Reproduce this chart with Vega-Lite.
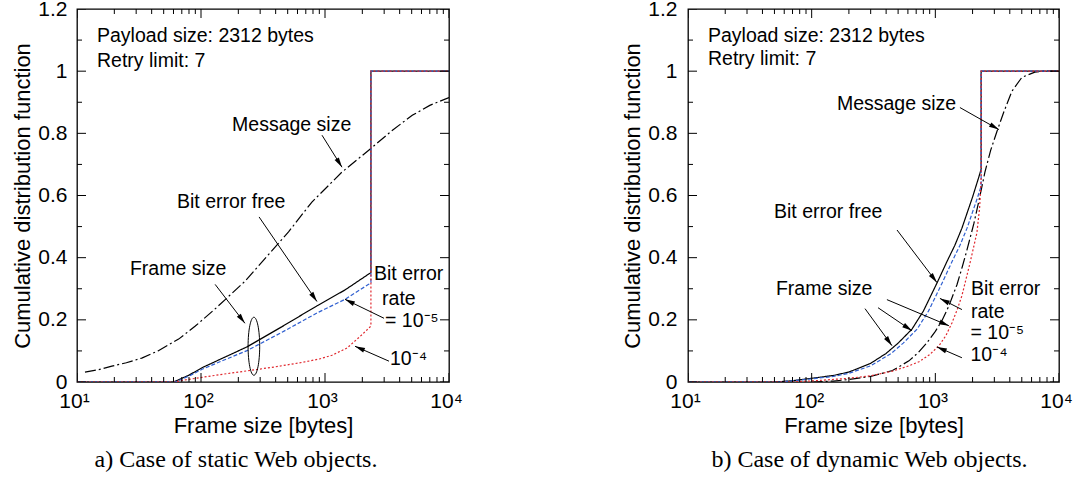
{
  "$schema": "https://vega.github.io/schema/vega-lite/v6.json",
  "background": "white",
  "padding": {"left": 11, "top": -3, "right": 5, "bottom": 5},
  "bounds": "flush",
  "spacing": 239,
  "datasets": {
    "xMajor": [{"v":10},{"v":100},{"v":1000},{"v":10000}],
    "xMinor": [{"v":20},{"v":30},{"v":40},{"v":50},{"v":60},{"v":70},{"v":80},{"v":90},{"v":200},{"v":300},{"v":400},{"v":500},{"v":600},{"v":700},{"v":800},{"v":900},{"v":2000},{"v":3000},{"v":4000},{"v":5000},{"v":6000},{"v":7000},{"v":8000},{"v":9000}],
    "yMajor": [{"v":0},{"v":0.2},{"v":0.4},{"v":0.6},{"v":0.8},{"v":1},{"v":1.2}],
    "yMinor": [{"v":0.1},{"v":0.3},{"v":0.5},{"v":0.7},{"v":0.9},{"v":1.1}],
    "curvesA": [
      {"s":"msg","x":11.6,"y":0.032},{"s":"msg","x":15,"y":0.04},{"s":"msg","x":19.1,"y":0.051},{"s":"msg","x":25,"y":0.062},{"s":"msg","x":33.3,"y":0.077},{"s":"msg","x":45,"y":0.1},{"s":"msg","x":66,"y":0.138},{"s":"msg","x":90,"y":0.18},{"s":"msg","x":129,"y":0.234},{"s":"msg","x":225,"y":0.323},{"s":"msg","x":350,"y":0.41},{"s":"msg","x":508,"y":0.483},{"s":"msg","x":784,"y":0.579},{"s":"msg","x":1368,"y":0.675},{"s":"msg","x":2304,"y":0.749},{"s":"msg","x":3500,"y":0.81},{"s":"msg","x":5054,"y":0.858},{"s":"msg","x":7000,"y":0.89},{"s":"msg","x":10000,"y":0.915},
      {"s":"free","x":10,"y":0},{"s":"free","x":60,"y":0},{"s":"free","x":80,"y":0.022},{"s":"free","x":102,"y":0.046},{"s":"free","x":150,"y":0.077},{"s":"free","x":235,"y":0.113},{"s":"free","x":450,"y":0.178},{"s":"free","x":861,"y":0.245},{"s":"free","x":1449,"y":0.296},{"s":"free","x":2264,"y":0.348},{"s":"free","x":2346,"y":0.352},{"s":"free","x":2346,"y":1},{"s":"free","x":10000,"y":1},
      {"s":"b5","x":10,"y":0},{"s":"b5","x":62,"y":0},{"s":"b5","x":80,"y":0.019},{"s":"b5","x":102,"y":0.041},{"s":"b5","x":150,"y":0.069},{"s":"b5","x":235,"y":0.101},{"s":"b5","x":450,"y":0.16},{"s":"b5","x":861,"y":0.222},{"s":"b5","x":1449,"y":0.266},{"s":"b5","x":2264,"y":0.315},{"s":"b5","x":2346,"y":0.32},{"s":"b5","x":2346,"y":1},{"s":"b5","x":10000,"y":1},
      {"s":"b4","x":10,"y":0},{"s":"b4","x":62,"y":0},{"s":"b4","x":70,"y":0.005},{"s":"b4","x":102,"y":0.015},{"s":"b4","x":150,"y":0.025},{"s":"b4","x":258,"y":0.038},{"s":"b4","x":400,"y":0.049},{"s":"b4","x":653,"y":0.063},{"s":"b4","x":900,"y":0.074},{"s":"b4","x":1138,"y":0.086},{"s":"b4","x":1503,"y":0.109},{"s":"b4","x":1986,"y":0.152},{"s":"b4","x":2306,"y":0.177},{"s":"b4","x":2346,"y":0.18},{"s":"b4","x":2346,"y":1},{"s":"b4","x":10000,"y":1}
    ],
    "curvesB": [
      {"s":"msg","x":100,"y":0},{"s":"msg","x":150,"y":0.003},{"s":"msg","x":200,"y":0.008},{"s":"msg","x":300,"y":0.018},{"s":"msg","x":450,"y":0.037},{"s":"msg","x":612,"y":0.068},{"s":"msg","x":730,"y":0.095},{"s":"msg","x":855,"y":0.126},{"s":"msg","x":1000,"y":0.163},{"s":"msg","x":1130,"y":0.197},{"s":"msg","x":1288,"y":0.245},{"s":"msg","x":1496,"y":0.313},{"s":"msg","x":1650,"y":0.37},{"s":"msg","x":1800,"y":0.424},{"s":"msg","x":2050,"y":0.51},{"s":"msg","x":2300,"y":0.6},{"s":"msg","x":2518,"y":0.675},{"s":"msg","x":2800,"y":0.745},{"s":"msg","x":3148,"y":0.806},{"s":"msg","x":3590,"y":0.87},{"s":"msg","x":4157,"y":0.935},{"s":"msg","x":5010,"y":0.98},{"s":"msg","x":6380,"y":0.997},{"s":"msg","x":7500,"y":1},{"s":"msg","x":10000,"y":1},
      {"s":"free","x":10,"y":0},{"s":"free","x":50,"y":0},{"s":"free","x":70,"y":0.004},{"s":"free","x":100,"y":0.012},{"s":"free","x":150,"y":0.021},{"s":"free","x":200,"y":0.032},{"s":"free","x":300,"y":0.06},{"s":"free","x":400,"y":0.092},{"s":"free","x":500,"y":0.125},{"s":"free","x":647,"y":0.17},{"s":"free","x":800,"y":0.228},{"s":"free","x":1030,"y":0.318},{"s":"free","x":1250,"y":0.39},{"s":"free","x":1439,"y":0.44},{"s":"free","x":1641,"y":0.495},{"s":"free","x":2000,"y":0.595},{"s":"free","x":2250,"y":0.66},{"s":"free","x":2346,"y":0.685},{"s":"free","x":2346,"y":1},{"s":"free","x":10000,"y":1},
      {"s":"b5","x":10,"y":0},{"s":"b5","x":55,"y":0},{"s":"b5","x":100,"y":0.01},{"s":"b5","x":150,"y":0.018},{"s":"b5","x":200,"y":0.028},{"s":"b5","x":300,"y":0.052},{"s":"b5","x":440,"y":0.092},{"s":"b5","x":550,"y":0.125},{"s":"b5","x":712,"y":0.17},{"s":"b5","x":880,"y":0.228},{"s":"b5","x":1133,"y":0.318},{"s":"b5","x":1375,"y":0.39},{"s":"b5","x":1583,"y":0.44},{"s":"b5","x":1805,"y":0.495},{"s":"b5","x":2200,"y":0.595},{"s":"b5","x":2346,"y":0.63},{"s":"b5","x":2346,"y":1},{"s":"b5","x":10000,"y":1},
      {"s":"b4","x":10,"y":0},{"s":"b4","x":70,"y":0},{"s":"b4","x":115,"y":0.005},{"s":"b4","x":200,"y":0.012},{"s":"b4","x":300,"y":0.02},{"s":"b4","x":450,"y":0.035},{"s":"b4","x":612,"y":0.052},{"s":"b4","x":737,"y":0.065},{"s":"b4","x":900,"y":0.088},{"s":"b4","x":1072,"y":0.117},{"s":"b4","x":1220,"y":0.15},{"s":"b4","x":1362,"y":0.19},{"s":"b4","x":1500,"y":0.232},{"s":"b4","x":1641,"y":0.278},{"s":"b4","x":1900,"y":0.38},{"s":"b4","x":2168,"y":0.48},{"s":"b4","x":2280,"y":0.56},{"s":"b4","x":2346,"y":0.655},{"s":"b4","x":2346,"y":1},{"s":"b4","x":10000,"y":1}
    ],
    "textA": [
      {"x":14.5,"y":1.114,"t":"Payload size: 2312 bytes"},
      {"x":14.5,"y":1.034,"t":"Retry limit: 7"},
      {"x":178,"y":0.826,"t":"Message size"},
      {"x":64,"y":0.579,"t":"Bit error free"},
      {"x":26.7,"y":0.362,"t":"Frame size"},
      {"x":2483,"y":0.346,"t":"Bit error"},
      {"x":2884,"y":0.266,"t":"rate"},
      {"x":3050,"y":0.195,"t":"= 10⁻⁵"},
      {"x":3340,"y":0.074,"t":"10⁻⁴"}
    ],
    "textB": [
      {"x":14.5,"y":1.113,"t":"Payload size: 2312 bytes"},
      {"x":14.5,"y":1.039,"t":"Retry limit: 7"},
      {"x":160,"y":0.893,"t":"Message size"},
      {"x":49.6,"y":0.547,"t":"Bit error free"},
      {"x":51.4,"y":0.298,"t":"Frame size"},
      {"x":1941,"y":0.298,"t":"Bit error"},
      {"x":1941,"y":0.226,"t":"rate"},
      {"x":1925,"y":0.158,"t":"= 10⁻⁵"},
      {"x":1925,"y":0.088,"t":"10⁻⁴"}
    ],
    "arrowsA": [
      {"x":946,"y":0.794,"x2":1371,"y2":0.691},
      {"x":294,"y":0.531,"x2":861,"y2":0.259},
      {"x":130,"y":0.314,"x2":226,"y2":0.189},
      {"x":2992,"y":0.205,"x2":1449,"y2":0.266},
      {"x":3281,"y":0.067,"x2":1746,"y2":0.115}
    ],
    "arrowsB": [
      {"x":1581,"y":0.883,"x2":3266,"y2":0.812},
      {"x":490,"y":0.489,"x2":1030,"y2":0.32},
      {"x":270,"y":0.236,"x2":446,"y2":0.117},
      {"x":344,"y":0.239,"x2":647,"y2":0.165},
      {"x":406,"y":0.265,"x2":1288,"y2":0.181},
      {"x":1641,"y":0.233,"x2":1089,"y2":0.269},
      {"x":1641,"y":0.078,"x2":1030,"y2":0.113}
    ],
    "ellipseA": [{"x":267,"y":0.115}]
  },
  "hconcat": [
    {
      "width": 372,
      "height": 373,
      "title": {"text": "a) Case of static Web objects.", "orient": "bottom", "font": "Liberation Serif", "fontSize": 24, "fontWeight": "normal", "color": "black", "offset": 12, "dx": -27},
      "layer": [
        {
          "data": {"name": "curvesA"},
          "mark": {"type": "line", "strokeWidth": 1.2, "clip": true},
          "encoding": {
            "x": {"field": "x", "type": "quantitative", "scale": {"type": "log", "domain": [10, 10000], "nice": false},
              "axis": {"orient": "bottom", "values": [10,100,1000,10000],
                "labelExpr": "datum.value==10?'10¹':datum.value==100?'10²':datum.value==1000?'10³':'10⁴'",
                "ticks": false, "labelPadding": 8, "labelOffset": -3, "title": "Frame size [bytes]", "titlePadding": 4}},
            "y": {"field": "y", "type": "quantitative", "scale": {"domain": [0, 1.2], "nice": false, "zero": false},
              "axis": {"orient": "left", "values": [0,0.2,0.4,0.6,0.8,1,1.2],
                "labelExpr": "format(datum.value, '.1~f')",
                "ticks": false, "labelPadding": 10, "title": "Cumulative distribution function", "titlePadding": 3}},
            "color": {"field": "s", "type": "nominal", "scale": {"domain": ["msg","free","b5","b4"], "range": ["black","black","#2f5fd0","#e0282e"]}, "legend": null},
            "strokeDash": {"field": "s", "type": "nominal", "scale": {"domain": ["msg","free","b5","b4"], "range": [[11,3,2,3],[1,0],[4,2],[2,2]]}, "legend": null}
          }
        },
        {"data": {"name": "xMajor"}, "mark": {"type": "tick", "orient": "vertical", "size": 18, "thickness": 1, "color": "black", "opacity": 1, "clip": true},
          "encoding": {"x": {"field": "v", "type": "quantitative"}, "y": {"datum": 0, "type": "quantitative"}}},
        {"data": {"name": "xMajor"}, "mark": {"type": "tick", "orient": "vertical", "size": 18, "thickness": 1, "color": "black", "opacity": 1, "clip": true},
          "encoding": {"x": {"field": "v", "type": "quantitative"}, "y": {"datum": 1.2, "type": "quantitative"}}},
        {"data": {"name": "xMinor"}, "mark": {"type": "tick", "orient": "vertical", "size": 10, "thickness": 1, "color": "black", "opacity": 1, "clip": true},
          "encoding": {"x": {"field": "v", "type": "quantitative"}, "y": {"datum": 0, "type": "quantitative"}}},
        {"data": {"name": "xMinor"}, "mark": {"type": "tick", "orient": "vertical", "size": 10, "thickness": 1, "color": "black", "opacity": 1, "clip": true},
          "encoding": {"x": {"field": "v", "type": "quantitative"}, "y": {"datum": 1.2, "type": "quantitative"}}},
        {"data": {"name": "yMajor"}, "mark": {"type": "tick", "orient": "horizontal", "size": 18, "thickness": 1, "color": "black", "opacity": 1, "clip": true},
          "encoding": {"y": {"field": "v", "type": "quantitative"}, "x": {"datum": 10, "type": "quantitative"}}},
        {"data": {"name": "yMajor"}, "mark": {"type": "tick", "orient": "horizontal", "size": 18, "thickness": 1, "color": "black", "opacity": 1, "clip": true},
          "encoding": {"y": {"field": "v", "type": "quantitative"}, "x": {"datum": 10000, "type": "quantitative"}}},
        {"data": {"name": "yMinor"}, "mark": {"type": "tick", "orient": "horizontal", "size": 10, "thickness": 1, "color": "black", "opacity": 1, "clip": true},
          "encoding": {"y": {"field": "v", "type": "quantitative"}, "x": {"datum": 10, "type": "quantitative"}}},
        {"data": {"name": "yMinor"}, "mark": {"type": "tick", "orient": "horizontal", "size": 10, "thickness": 1, "color": "black", "opacity": 1, "clip": true},
          "encoding": {"y": {"field": "v", "type": "quantitative"}, "x": {"datum": 10000, "type": "quantitative"}}},
        {
          "data": {"name": "textA"},
          "mark": {"type": "text", "align": "left", "baseline": "middle", "font": "Liberation Sans", "fontSize": 19.5, "color": "black"},
          "encoding": {
            "x": {"field": "x", "type": "quantitative"},
            "y": {"field": "y", "type": "quantitative"},
            "text": {"field": "t"}
          }
        },
        {
          "data": {"name": "arrowsA"},
          "mark": {"type": "rule", "strokeWidth": 1, "color": "black"},
          "encoding": {
            "x": {"field": "x", "type": "quantitative"},
            "y": {"field": "y", "type": "quantitative"},
            "x2": {"field": "x2"},
            "y2": {"field": "y2"}
          }
        },
        {
          "data": {"name": "arrowsA"},
          "transform": [{"calculate": "atan2(124*(log(datum.x2)-log(datum.x))/LN10, 311*(datum.y2-datum.y))*180/PI", "as": "ang"}],
          "mark": {"type": "point", "shape": "M0,0L1,4L-1,4Z", "filled": true, "size": 25, "color": "black", "opacity": 1},
          "encoding": {
            "x": {"field": "x2", "type": "quantitative"},
            "y": {"field": "y2", "type": "quantitative"},
            "angle": {"field": "ang", "type": "quantitative", "scale": null}
          }
        },
        {
          "data": {"name": "ellipseA"},
          "mark": {"type": "point", "shape": "M0,-1A0.2,1,0,1,1,0,1A0.2,1,0,1,1,0,-1Z", "filled": false, "size": 3364, "color": "black", "strokeWidth": 1, "opacity": 1},
          "encoding": {
            "x": {"field": "x", "type": "quantitative"},
            "y": {"field": "y", "type": "quantitative"}
          }
        }
      ]
    },
    {
      "width": 371,
      "height": 373,
      "title": {"text": "b) Case of dynamic Web objects.", "orient": "bottom", "font": "Liberation Serif", "fontSize": 24, "fontWeight": "normal", "color": "black", "offset": 12, "dx": -4},
      "layer": [
        {
          "data": {"name": "curvesB"},
          "mark": {"type": "line", "strokeWidth": 1.2, "clip": true},
          "encoding": {
            "x": {"field": "x", "type": "quantitative", "scale": {"type": "log", "domain": [10, 10000], "nice": false},
              "axis": {"orient": "bottom", "values": [10,100,1000,10000],
                "labelExpr": "datum.value==10?'10¹':datum.value==100?'10²':datum.value==1000?'10³':'10⁴'",
                "ticks": false, "labelPadding": 8, "labelOffset": -3, "title": "Frame size [bytes]", "titlePadding": 4}},
            "y": {"field": "y", "type": "quantitative", "scale": {"domain": [0, 1.2], "nice": false, "zero": false},
              "axis": {"orient": "left", "values": [0,0.2,0.4,0.6,0.8,1,1.2],
                "labelExpr": "format(datum.value, '.1~f')",
                "ticks": false, "labelPadding": 11, "title": "Cumulative distribution function", "titlePadding": 3}},
            "color": {"field": "s", "type": "nominal", "scale": {"domain": ["msg","free","b5","b4"], "range": ["black","black","#2f5fd0","#e0282e"]}, "legend": null},
            "strokeDash": {"field": "s", "type": "nominal", "scale": {"domain": ["msg","free","b5","b4"], "range": [[11,3,2,3],[1,0],[4,2],[2,2]]}, "legend": null}
          }
        },
        {"data": {"name": "xMajor"}, "mark": {"type": "tick", "orient": "vertical", "size": 18, "thickness": 1, "color": "black", "opacity": 1, "clip": true},
          "encoding": {"x": {"field": "v", "type": "quantitative"}, "y": {"datum": 0, "type": "quantitative"}}},
        {"data": {"name": "xMajor"}, "mark": {"type": "tick", "orient": "vertical", "size": 18, "thickness": 1, "color": "black", "opacity": 1, "clip": true},
          "encoding": {"x": {"field": "v", "type": "quantitative"}, "y": {"datum": 1.2, "type": "quantitative"}}},
        {"data": {"name": "xMinor"}, "mark": {"type": "tick", "orient": "vertical", "size": 10, "thickness": 1, "color": "black", "opacity": 1, "clip": true},
          "encoding": {"x": {"field": "v", "type": "quantitative"}, "y": {"datum": 0, "type": "quantitative"}}},
        {"data": {"name": "xMinor"}, "mark": {"type": "tick", "orient": "vertical", "size": 10, "thickness": 1, "color": "black", "opacity": 1, "clip": true},
          "encoding": {"x": {"field": "v", "type": "quantitative"}, "y": {"datum": 1.2, "type": "quantitative"}}},
        {"data": {"name": "yMajor"}, "mark": {"type": "tick", "orient": "horizontal", "size": 18, "thickness": 1, "color": "black", "opacity": 1, "clip": true},
          "encoding": {"y": {"field": "v", "type": "quantitative"}, "x": {"datum": 10, "type": "quantitative"}}},
        {"data": {"name": "yMajor"}, "mark": {"type": "tick", "orient": "horizontal", "size": 18, "thickness": 1, "color": "black", "opacity": 1, "clip": true},
          "encoding": {"y": {"field": "v", "type": "quantitative"}, "x": {"datum": 10000, "type": "quantitative"}}},
        {"data": {"name": "yMinor"}, "mark": {"type": "tick", "orient": "horizontal", "size": 10, "thickness": 1, "color": "black", "opacity": 1, "clip": true},
          "encoding": {"y": {"field": "v", "type": "quantitative"}, "x": {"datum": 10, "type": "quantitative"}}},
        {"data": {"name": "yMinor"}, "mark": {"type": "tick", "orient": "horizontal", "size": 10, "thickness": 1, "color": "black", "opacity": 1, "clip": true},
          "encoding": {"y": {"field": "v", "type": "quantitative"}, "x": {"datum": 10000, "type": "quantitative"}}},
        {
          "data": {"name": "textB"},
          "mark": {"type": "text", "align": "left", "baseline": "middle", "font": "Liberation Sans", "fontSize": 19.5, "color": "black"},
          "encoding": {
            "x": {"field": "x", "type": "quantitative"},
            "y": {"field": "y", "type": "quantitative"},
            "text": {"field": "t"}
          }
        },
        {
          "data": {"name": "arrowsB"},
          "mark": {"type": "rule", "strokeWidth": 1, "color": "black"},
          "encoding": {
            "x": {"field": "x", "type": "quantitative"},
            "y": {"field": "y", "type": "quantitative"},
            "x2": {"field": "x2"},
            "y2": {"field": "y2"}
          }
        },
        {
          "data": {"name": "arrowsB"},
          "transform": [{"calculate": "atan2(124*(log(datum.x2)-log(datum.x))/LN10, 311*(datum.y2-datum.y))*180/PI", "as": "ang"}],
          "mark": {"type": "point", "shape": "M0,0L1,4L-1,4Z", "filled": true, "size": 25, "color": "black", "opacity": 1},
          "encoding": {
            "x": {"field": "x2", "type": "quantitative"},
            "y": {"field": "y2", "type": "quantitative"},
            "angle": {"field": "ang", "type": "quantitative", "scale": null}
          }
        }
      ]
    }
  ],
  "config": {
    "view": {"stroke": "black", "strokeWidth": 1.3},
    "axis": {"grid": false, "domain": false, "labelFont": "Liberation Sans", "labelFontSize": 21, "labelColor": "black", "titleFont": "Liberation Sans", "titleFontSize": 22, "titleFontWeight": "normal", "titleColor": "black", "labelOverlap": false, "labelFlush": false, "labelBound": false}
  }
}
